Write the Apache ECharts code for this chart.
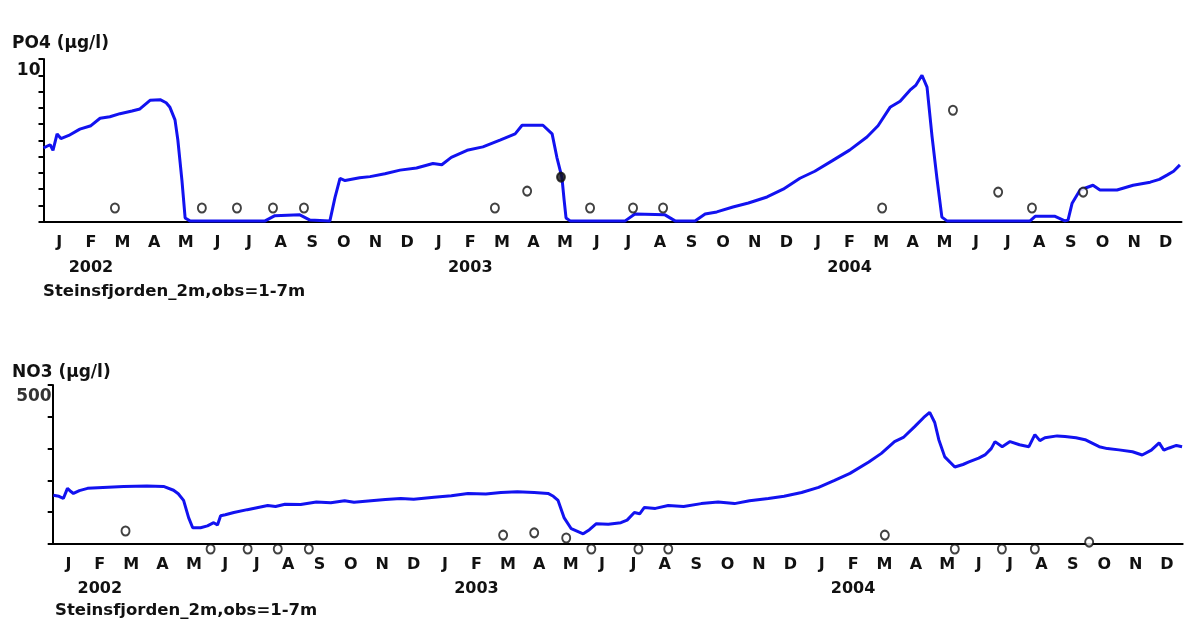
<!DOCTYPE html>
<html>
<head>
<meta charset="utf-8">
<script src="https://cdn.jsdelivr.net/npm/echarts@6/dist/echarts.min.js"></script>
<style>
  html, body { margin: 0; padding: 0; background: #fff; }
  #chart { width: 1186px; height: 623px; }
</style>
</head>
<body>
<div id="chart"></div>
<script>
// month letters under the axis, 3 years
const monthLetters = ['J','F','M','A','M','J','J','A','S','O','N','D']
const years = ['2002', '2003', '2004']
const subTitle = 'Steinsfjorden_2m,obs=1-7m'

// PO4 model line: [month since Jan 2002, µg/l]
const po4Line = [
  [0,4.54],[0.21,4.73],[0.30,4.39],[0.43,5.4],[0.55,5.11],[0.8,5.3],[1.15,5.69],[1.5,5.9],[1.79,6.36],[2.1,6.45],
  [2.42,6.64],[2.8,6.8],[3.05,6.93],[3.37,7.46],[3.69,7.5],[3.88,7.31],[4.0,7.03],[4.16,6.26],[4.25,5.02],
  [4.38,2.53],[4.48,0.23],[4.63,0.05],[7.01,0.05],[7.32,0.37],[8.11,0.42],[8.43,0.1],[9.06,0.05],
  [9.22,1.48],[9.38,2.67],[9.54,2.53],[10.0,2.7],[10.33,2.77],[10.8,2.95],[11.28,3.17],[11.8,3.3],[12.32,3.58],
  [12.6,3.5],[12.9,3.95],[13.40,4.39],[13.9,4.6],[14.44,5.02],[14.92,5.4],[15.14,5.93],[15.80,5.93],[16.09,5.4],
  [16.24,3.96],[16.40,2.72],[16.47,1.33],[16.53,0.23],[16.66,0.05],[18.40,0.05],[18.71,0.47],[19.66,0.42],
  [19.98,0.05],[20.61,0.05],[20.93,0.47],[21.3,0.6],[21.81,0.9],[22.3,1.15],[22.89,1.52],[23.4,2.0],[23.93,2.67],
  [24.4,3.1],[24.97,3.77],[25.5,4.4],[26.05,5.21],[26.4,5.9],[26.78,7.03],[27.1,7.4],[27.41,8.08],[27.6,8.4],
  [27.79,9.0],[27.95,8.27],[28.11,5.21],[28.26,2.72],[28.42,0.28],[28.58,0.05],[31.21,0.05],[31.37,0.33],
  [32.0,0.33],[32.31,0.05],[32.41,0.1],[32.54,1.14],[32.79,1.95],[33.20,2.24],[33.42,1.95],[33.96,1.95],
  [34.47,2.24],[35.01,2.43],[35.3,2.6],[35.54,2.86],[35.75,3.1],[35.95,3.49]
]
// PO4 observations
const po4Obs = [
  [2.26,0.84],[5.01,0.84],[6.12,0.84],[7.26,0.84],[8.24,0.84],[14.28,0.84],[15.30,1.88],[16.37,2.74],
  [17.29,0.84],[18.65,0.84],[19.60,0.84],[26.53,0.84],[28.77,6.85],[30.20,1.82],[31.27,0.84],[32.89,1.82]
]

// NO3 model line
const no3Line = [
  [0.02,153],[0.2,150],[0.34,143],[0.47,175],[0.58,165],[0.66,159],[0.85,168],[1.11,175],[1.6,178],[2.26,181],
  [3.0,182],[3.53,181],[3.85,169],[4.0,158],[4.17,137],[4.33,83],[4.46,51],[4.71,51],[4.93,57],[5.13,67],
  [5.25,60],[5.35,89],[5.5,92],[5.77,99],[6.2,108],[6.85,121],[7.1,118],[7.4,125],[7.9,124],[8.4,132],
  [8.86,130],[9.3,136],[9.6,131],[10.14,136],[10.6,140],[11.09,143],[11.5,141],[12.15,147],[12.7,152],
  [13.23,159],[13.8,157],[14.28,162],[14.8,164],[15.34,162],[15.78,159],[15.95,150],[16.1,137],[16.29,83],
  [16.52,48],[16.9,32],[17.1,45],[17.32,64],[17.7,62],[18.1,67],[18.3,75],[18.53,99],[18.7,95],[18.85,115],
  [19.2,112],[19.61,121],[20.1,118],[20.66,127],[21.2,132],[21.72,127],[22.2,136],[22.8,143],[23.3,150],
  [23.86,162],[24.4,178],[24.91,200],[25.4,222],[26.0,258],[26.4,285],[26.82,322],[27.1,335],[27.46,369],
  [27.75,398],[27.94,414],[28.1,382],[28.23,328],[28.42,274],[28.74,242],[29.0,250],[29.19,258],[29.5,270],
  [29.7,280],[29.9,300],[30.02,322],[30.25,306],[30.5,322],[30.8,312],[31.1,306],[31.29,344],[31.45,325],
  [31.61,334],[32.0,340],[32.25,338],[32.6,334],[32.89,328],[33.34,306],[33.6,300],[33.97,296],[34.4,290],
  [34.71,280],[35.0,295],[35.25,318],[35.4,295],[35.57,302],[35.8,310],[35.98,306]
]
// NO3 observations (the ones at zero are drawn just under the axis in the original)
const no3Obs = [[2.32,41],[14.35,28],[15.34,35],[16.36,19],[26.51,28],[33.02,6]]
const no3ObsZero = [[5.03,0],[6.21,0],[7.17,0],[8.16,0],[17.16,0],[18.66,0],[19.61,0],[28.74,0],[30.24,0],[31.29,0]]

const months = [].concat(monthLetters, monthLetters, monthLetters)
const yearLabels = months.map((m, i) => (i % 12 === 1 ? years[Math.floor(i / 12)] : ''))

const FONT = 'DejaVu Sans'
const txt = { fontFamily: FONT, fontWeight: 'bold', fontSize: 16, color: '#111' }
const black = { color: '#000', width: 2 }

const grids = [
  { left: 43.5, top: 59, width: 1138, height: 162.7 },
  { left: 52.7, top: 385, width: 1130, height: 159 }
]

const xAxes = []
const yAxes = []
grids.forEach((g, i) => {
  xAxes.push({   // month letters
    gridIndex: i, type: 'category', position: 'bottom', data: months, boundaryGap: true,
    axisLine: { onZero: false, lineStyle: black },
    axisTick: { interval: 0, length: 5, lineStyle: black },
    axisLabel: { interval: 0, margin: 13, ...txt }
  })
  xAxes.push({   // year under Feb
    gridIndex: i, type: 'category', position: 'bottom', offset: 0, data: yearLabels, boundaryGap: true,
    axisLine: { show: false, onZero: false }, axisTick: { show: false },
    axisLabel: { interval: 0, margin: i === 0 ? 38 : 37, ...txt }
  })
  xAxes.push({ gridIndex: i, type: 'value', min: 0, max: 36, show: false })
})

yAxes.push({
  gridIndex: 0, type: 'value', min: 0, max: 10, interval: 1,
  axisLine: { show: true, lineStyle: black },
  axisTick: { show: true, length: 5, lineStyle: black },
  splitLine: { show: false },
  axisLabel: { showMaxLabel: true, margin: 3, verticalAlign: 'top', padding: [3, 0, 0, 0], ...txt, fontSize: 17,
    formatter: v => (v === 10 ? '10' : '') }
})
yAxes.push({
  gridIndex: 1, type: 'value', min: 0, max: 500, interval: 100,
  axisLine: { show: true, lineStyle: black },
  axisTick: { show: true, length: 5, lineStyle: black },
  splitLine: { show: false },
  axisLabel: { showMaxLabel: true, margin: 1, verticalAlign: 'top', padding: [3, 0, 0, 0], ...txt, fontSize: 17, color: '#333',
    formatter: v => (v === 500 ? '500' : '') }
})

const lineStyle = { color: '#1212f0', width: 3 }
const obsStyle = { color: '#fff', borderColor: '#111', borderWidth: 2 }

const myChart = echarts.init(document.getElementById('chart'))
myChart.setOption({
  animation: false,
  backgroundColor: '#fff',
  title: [
    { text: 'PO4 (µg/l)', left: 12, top: 35, padding: 0, textStyle: { ...txt, fontSize: 17 } },
    { text: subTitle, left: 43, top: 283, padding: 0, textStyle: { ...txt, fontSize: 16.5 } },
    { text: 'NO3 (µg/l)', left: 12, top: 364, padding: 0, textStyle: { ...txt, fontSize: 17 } },
    { text: subTitle, left: 55, top: 602, padding: 0, textStyle: { ...txt, fontSize: 16.5 } }
  ],
  grid: grids,
  xAxis: xAxes,
  yAxis: yAxes,
  series: [
    { type: 'line', xAxisIndex: 2, yAxisIndex: 0, data: po4Line, showSymbol: false, lineStyle: lineStyle, z: 3 },
    {
      type: 'scatter', xAxisIndex: 2, yAxisIndex: 0, symbolSize: [8, 9], itemStyle: obsStyle, z: 4,
      data: po4Obs.map(p => (p[1] === 2.74 ? { value: p, itemStyle: { color: '#111' } } : p))
    },
    { type: 'line', xAxisIndex: 5, yAxisIndex: 1, data: no3Line, showSymbol: false, lineStyle: lineStyle, z: 3 },
    { type: 'scatter', xAxisIndex: 5, yAxisIndex: 1, symbolSize: [8, 9], itemStyle: obsStyle, z: 4, data: no3Obs },
    {
      type: 'scatter', xAxisIndex: 5, yAxisIndex: 1, symbolSize: [8, 9], symbolOffset: [0, 5], clip: false,
      itemStyle: { color: 'transparent', borderColor: '#111', borderWidth: 2 }, z: 4, data: no3ObsZero
    }
  ]
})
</script>
</body>
</html>
